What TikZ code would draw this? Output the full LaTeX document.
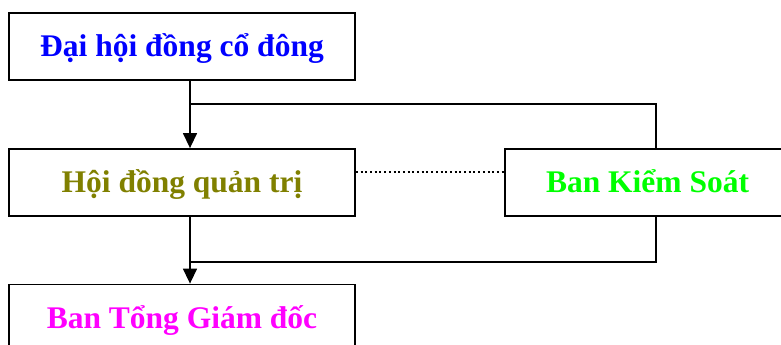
\documentclass[tikz,border=0pt]{standalone}
\usepackage{fontspec}
\setmainfont{Liberation Serif}
\usetikzlibrary{arrows.meta}
\definecolor{dhblue}{RGB}{0,0,255}
\definecolor{hdolive}{RGB}{128,128,0}
\definecolor{bkgreen}{RGB}{0,255,0}
\definecolor{tgmagenta}{RGB}{255,0,255}
\begin{document}
\begin{tikzpicture}[x=1pt,y=-1pt,
  box/.style={draw, line width=1.8pt, inner sep=0pt, text height=20pt, text depth=0pt,
    font=\fontsize{31.5}{37}\selectfont\bfseries, minimum height=67pt},
  conn/.style={line width=1.4pt},
  arr/.style={conn, -{Triangle[width=14pt,length=15pt]}},
  dotline/.style={line width=2pt, dash pattern=on 2pt off 2.7pt}]
\useasboundingbox (0,0) rectangle (781,345);
\node[box, minimum width=346pt, text=dhblue] (b1) at (182,46.5) {Đại hội đồng cổ đông};
\node[box, minimum width=346pt, text=hdolive] (b2) at (182,182.5) {Hội đồng quản trị};
\node[box, minimum width=285pt, text=bkgreen] (b3) at (647.5,182.5) {Ban Kiểm Soát};
\node[box, minimum width=346pt, text=tgmagenta] (b4) at (182,318) {Ban Tổng Giám đốc};
\coordinate (cx) at (190,0);
\coordinate (kx) at (656,0);
\coordinate (j1) at (190,104);
\coordinate (j2) at (190,262);
\coordinate (dy) at (0,172);
\draw[arr] (b1.south -| cx) -- (b2.north -| cx);
\draw[arr] (b2.south -| cx) -- (b4.north -| cx);
\draw[conn] (j1) -- (j1 -| kx) -- (b3.north -| kx);
\draw[conn] (b3.south -| kx) -- (j2 -| kx) -- (j2);
\draw[dotline] (b2.east |- dy) -- (b3.west |- dy);
\end{tikzpicture}
\end{document}
